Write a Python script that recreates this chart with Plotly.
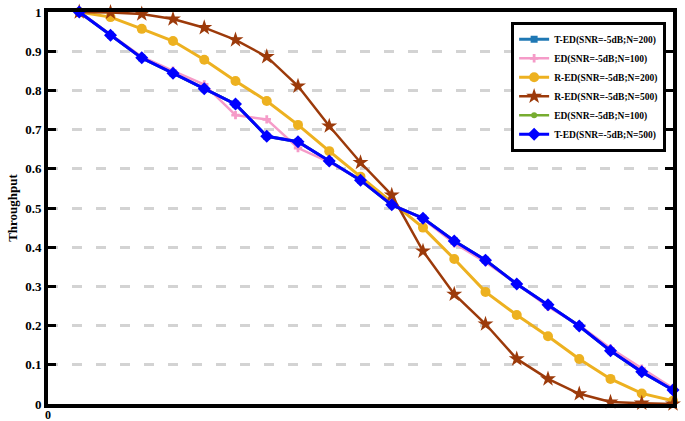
import plotly.graph_objects as go

x = list(range(1, 21))

# T-ED (SNR=-5dB; N=500), diamonds
ted_500 = [1.0, 0.941, 0.883, 0.844, 0.804, 0.765, 0.683, 0.669, 0.620, 0.571,
           0.508, 0.474, 0.416, 0.367, 0.306, 0.253, 0.199, 0.136, 0.082, 0.036]
# T-ED (SNR=-5dB; N=200), hidden under the N=500 curve
ted_200 = list(ted_500)
# ED (SNR=-5dB; N=100), pink
ed_100 = [1.0, 0.943, 0.886, 0.850, 0.815, 0.737, 0.726, 0.653, 0.617, 0.572,
          0.510, 0.472, 0.410, 0.362, 0.307, 0.248, 0.201, 0.142, 0.090, 0.040]
ed_100b = list(ted_500)
# R-ED (SNR=-5dB; N=200), orange circles
red_200 = [1.0, 0.987, 0.957, 0.926, 0.878, 0.824, 0.773, 0.712, 0.645, 0.580,
           0.513, 0.450, 0.370, 0.286, 0.227, 0.173, 0.115, 0.064, 0.027, 0.008]
# R-ED (SNR=-5dB; N=500), brown stars
red_500 = [1.0, 0.999, 0.995, 0.982, 0.960, 0.929, 0.886, 0.811, 0.709, 0.616,
           0.533, 0.390, 0.280, 0.204, 0.115, 0.064, 0.026, 0.005, 0.002, 0.0]

y_ticks = [0, 0.1, 0.2, 0.3, 0.4, 0.5, 0.6, 0.7, 0.8, 0.9, 1]
y_text = ["0", "0.1", "0.2", "0.3", "0.4", "0.5", "0.6", "0.7", "0.8", "0.9", "1"]

font_family = "Liberation Serif"

fig = go.Figure()

series = [
    ("T-ED(SNR=-5dB;N=200)", ted_200, "#1f78b4", "square", 7, 3),
    ("ED(SNR=-5dB;N=100)", ed_100, "#f59bc8", "cross", 7, 2.5),
    ("R-ED(SNR=-5dB;N=200)", red_200, "#edb120", "circle", 10, 3),
    ("R-ED(SNR=-5dB;N=500)", red_500, "#9c3a0a", "star", 12, 2.5),
    ("ED(SNR=-5dB;N=100)", ed_100b, "#77ac30", "circle", 6, 2.5),
    ("T-ED(SNR=-5dB;N=500)", ted_500, "#0000ff", "diamond", 10, 3),
]

for name, vals, color, sym, msize, lw in series:
    fig.add_trace(go.Scatter(
        x=x, y=vals, name=name, mode="lines+markers",
        line=dict(color=color, width=lw),
        marker=dict(symbol=sym, size=msize, color=color),
        cliponaxis=False,
    ))

fig.update_layout(
    width=685, height=421,
    margin=dict(l=48, r=12, t=12, b=17),
    paper_bgcolor="white",
    plot_bgcolor="white",
    font=dict(family=font_family, size=12, color="black"),
    legend=dict(
        x=0.741, y=0.975, xanchor="left", yanchor="top",
        bgcolor="white", bordercolor="black", borderwidth=3,
        font=dict(family=font_family, size=9.5, color="black", weight="bold"),
        tracegroupgap=0, itemwidth=30,
    ),
    xaxis=dict(
        range=[0, 20], tickvals=[0], ticktext=["0"], automargin=False,
        ticklabeloverflow="allow", ticklabelstandoff=-3,
        showgrid=False, zeroline=False,
        showline=True, linecolor="black", linewidth=4, mirror=True,
        ticks="", tickfont=dict(family=font_family, size=12, weight="bold"),
    ),
    yaxis=dict(
        range=[0, 1], tickvals=y_ticks, ticktext=y_text, automargin=False,
        ticklabeloverflow="allow",
        showgrid=True, gridcolor="#d3d3d3", gridwidth=3, griddash="10px,14px",
        zeroline=False,
        showline=True, linecolor="black", linewidth=4, mirror="ticks",
        ticks="inside", ticklen=8, tickwidth=3, tickcolor="black",
        tickfont=dict(family=font_family, size=13, weight="bold"),
        title=dict(text="Throughput", standoff=6,
                   font=dict(family=font_family, size=13, weight="bold")),
    ),
)

# drop the browser's default 8px body margin so the figure sits at the corner
fig.write_html("out.html", config={"displayModeBar": False},
               post_script="document.body.style.margin = '0';")
